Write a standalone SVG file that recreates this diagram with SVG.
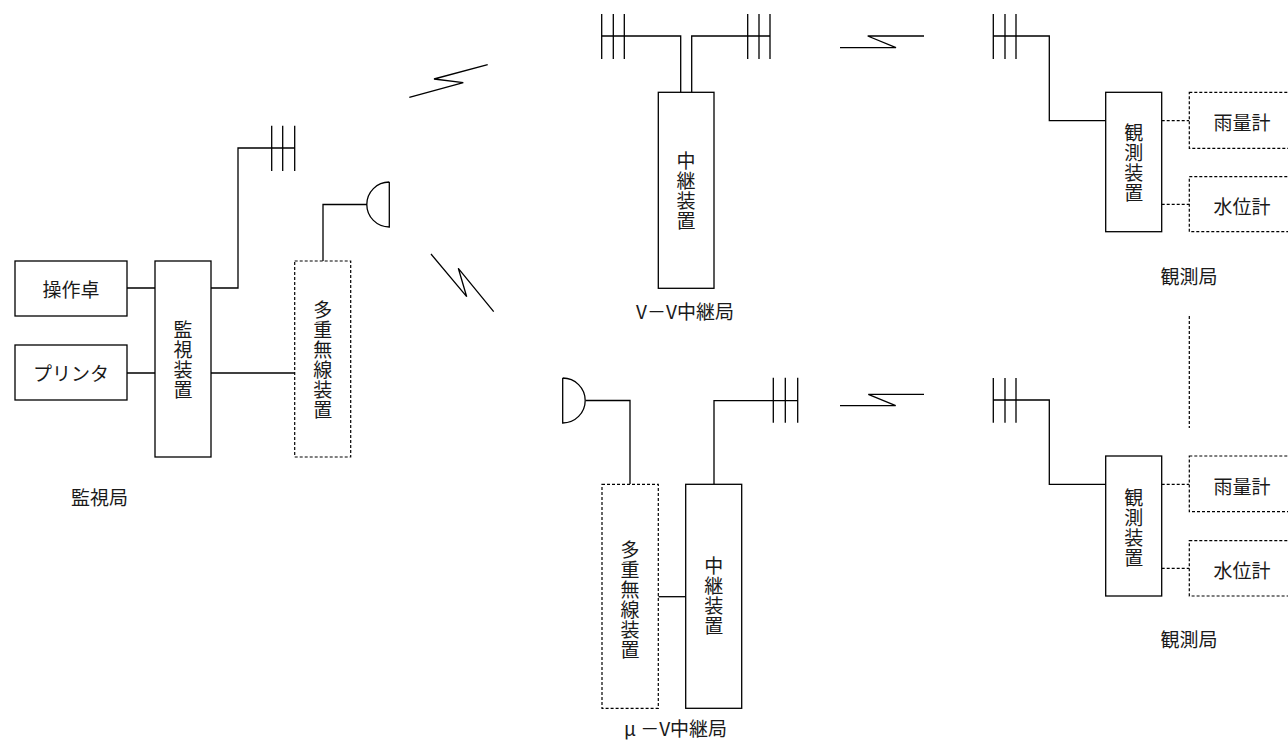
<svg xmlns="http://www.w3.org/2000/svg" width="1288" height="741" viewBox="0 0 1288 741">
<style>
.b{fill:#fff;stroke:#000;stroke-width:1.3}
.d{fill:#fff;stroke:#000;stroke-width:1.2;stroke-dasharray:3 2}
.l{fill:none;stroke:#000;stroke-width:1.3}
.dl{fill:none;stroke:#000;stroke-width:1.2;stroke-dasharray:3 2}
text{font-family:"Noto Sans CJK JP","Noto Sans CJK SC",sans-serif;font-size:19px;fill:#1a1a1a;dominant-baseline:central;text-anchor:middle}
text.v{writing-mode:vertical-rl;letter-spacing:1px}
</style>
<rect width="1288" height="741" fill="#fff"/>
<g id="connectors">
<path class="l" d="M127,288 H155 M127,373 H155"/>
<path class="l" d="M211,288 H238 V148 H295"/>
<path class="l" d="M211,373 H295"/>
<path class="l" d="M323,261 V204.5 H367"/>
<path class="l" d="M680.7,92.3 V36 H601.7 M691.7,92.3 V36 H770"/>
<path class="l" d="M585.7,400.5 H630 V484.3"/>
<path class="l" d="M658.3,596.7 H685.7"/>
<path class="l" d="M714,484.3 V400.7 H798"/>
<path class="l" d="M993,36 H1049.3 V120.7 H1105.7"/>
<path class="l" d="M993,400 H1049.3 V484.3 H1105.7"/>
<path class="dl" d="M1161.7,120.7 H1189.3 M1161.7,204.3 H1189.3"/>
<path class="dl" d="M1161.7,484.3 H1189.3 M1161.7,568.3 H1189.3"/>
<path class="dl" d="M1189.3,316 V428"/>
</g>
<g id="radio-links">
<path class="l" d="M409.3,97.3 L463.3,82.7 L434,79 L487.7,64.7"/>
<path class="l" d="M431,254 L466.7,296.7 L458.3,268.3 L493.7,311.7"/>
<path class="l" d="M840,47.7 L896,47.7 L867.7,36 L924,36"/>
<path class="l" d="M840,405.7 L895.7,405.7 L868.3,394.3 L924,394.3"/>
</g>
<g id="antennas">
<path class="l" d="M271.7,125.7 V171 M282.7,125.7 V171 M294.7,125.7 V171"/>
<path class="l" d="M389.3,182 V227 A22.5,22.5 0 0 1 389.3,182"/>
<path class="l" d="M601.7,14 V59 M613.3,14 V59 M624.3,14 V59"/>
<path class="l" d="M747.7,14 V59 M759,14 V59 M770,14 V59"/>
<path class="l" d="M562.7,378 V423 A22.5,22.5 0 0 0 562.7,378"/>
<path class="l" d="M773.3,377.7 V422.7 M785.3,377.7 V422.7 M797.7,377.7 V422.7"/>
<path class="l" d="M993.3,14 V59 M1005,14 V59 M1016,14 V59"/>
<path class="l" d="M993.3,378 V422.7 M1005,378 V422.7 M1016,378 V422.7"/>
</g>
<g id="n-console"><rect class="b" x="15" y="261" width="112" height="55"/><text x="71" y="288.5">操作卓</text></g>
<g id="n-printer"><rect class="b" x="15" y="345" width="112" height="55"/><text x="71" y="372.7">プリンタ</text></g>
<g id="n-monitor"><rect class="b" x="155" y="261" width="56" height="196"/><text class="v" x="183" y="360">監視装置</text></g>
<g id="n-mux1"><rect class="d" x="294.7" y="261" width="56" height="196"/><text class="v" x="322.7" y="360">多重無線装置</text></g>
<text x="99.5" y="496">監視局</text>
<g id="n-vv-relay"><rect class="b" x="658.3" y="92.3" width="55.7" height="196"/><text class="v" x="686" y="191.7">中継装置</text></g>
<text x="685" y="310.7">V－V中継局</text>
<g id="n-mux2"><rect class="d" x="602" y="484.3" width="56.3" height="224"/><text class="v" x="630" y="600">多重無線装置</text></g>
<g id="n-uv-relay"><rect class="b" x="685.7" y="484.3" width="56" height="224"/><text class="v" x="713.7" y="596">中継装置</text></g>
<text x="675.5" y="727">μ －V中継局</text>
<g id="n-obs1"><rect class="b" x="1105.7" y="92.3" width="56" height="139.4"/><text class="v" x="1133.7" y="163">観測装置</text></g>
<g id="n-rain1"><rect class="d" x="1189.3" y="92.3" width="110" height="56"/><text x="1242" y="121">雨量計</text></g>
<g id="n-level1"><rect class="d" x="1189.3" y="176.7" width="110" height="55"/><text x="1242" y="205">水位計</text></g>
<text x="1189" y="275.5">観測局</text>
<g id="n-obs2"><rect class="b" x="1105.7" y="456" width="56" height="140"/><text class="v" x="1133.7" y="528">観測装置</text></g>
<g id="n-rain2"><rect class="d" x="1189.3" y="456" width="110" height="55.7"/><text x="1242" y="485">雨量計</text></g>
<g id="n-level2"><rect class="d" x="1189.3" y="540.7" width="110" height="55.3"/><text x="1242" y="569">水位計</text></g>
<text x="1189" y="638.3">観測局</text>
</svg>
